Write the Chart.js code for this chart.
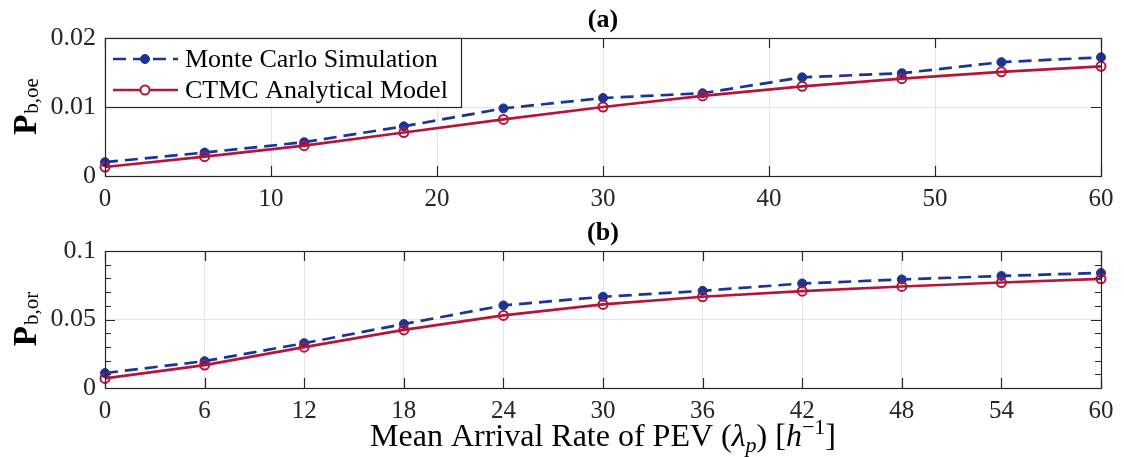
<!DOCTYPE html>
<html>
<head>
<meta charset="utf-8">
<script src="https://cdn.jsdelivr.net/npm/chart.js@4.4.1/dist/chart.umd.min.js"></script>
<style>
  body { margin: 0; background: #fff; }
  #wrap { position: relative; width: 1124px; height: 457px; }
  #chartA { position: absolute; left: 0; top: 0; }
  #chartB { position: absolute; left: 0; top: 220px; }
</style>
</head>
<body>
<div id="wrap">
  <canvas id="chartA" width="1124" height="220"></canvas>
  <canvas id="chartB" width="1124" height="237"></canvas>
</div>
<script>
// DATA
const arrivalRates = [0, 6, 12, 18, 24, 30, 36, 42, 48, 54, 60];
const monteCarloOE = [0.0020, 0.0034, 0.0049, 0.0072, 0.0098, 0.0113, 0.0120, 0.0143, 0.0149, 0.0165, 0.0172];
const ctmcOE       = [0.0013, 0.0028, 0.0044, 0.0063, 0.0082, 0.0100, 0.0116, 0.0130, 0.0141, 0.0151, 0.0159];
const monteCarloOR = [0.0109, 0.0196, 0.0327, 0.0467, 0.0603, 0.0666, 0.0709, 0.0763, 0.0792, 0.0818, 0.0840];
const ctmcOR       = [0.0070, 0.0167, 0.0298, 0.0424, 0.0530, 0.0610, 0.0666, 0.0707, 0.0741, 0.0770, 0.0797];
const seriesNames = ["Monte Carlo Simulation", "CTMC Analytical Model"];
const xTicksA = [0, 10, 20, 30, 40, 50, 60];
const xTicksB = [0, 6, 12, 18, 24, 30, 36, 42, 48, 54, 60];
const yTicksA = [0, 0.01, 0.02];
const yTicksB = [0, 0.05, 0.1];

const BLUE = "#1b3594";
const RED = "#b4163b";
const AXIS = "#262626";
const FONT = "'Liberation Serif', 'Times New Roman', serif";

function makeSeries(ys, which) {
    const mc = which === 0;
    return {
        label: seriesNames[which],
        data: arrivalRates.map((x, i) => ({ x: x, y: ys[i] })),
        borderColor: mc ? BLUE : RED,
        borderWidth: 2.7,
        borderDash: mc ? [13, 7] : [],
        pointStyle: "circle",
        pointRadius: mc ? 4.5 : 4.5,
        pointBorderWidth: mc ? 1 : 2,
        pointBorderColor: mc ? BLUE : RED,
        pointBackgroundColor: mc ? BLUE : "rgba(0,0,0,0)",
        tension: 0,
        clip: false,
        order: mc ? 1 : 0
    };
}

// inward MATLAB style ticks + axes box
const boxTicks = {
    id: "boxTicks",
    afterDatasetsDraw(chart, args, opts) {
        const ctx = chart.ctx;
        const a = chart.chartArea;
        const xs = chart.scales.x, ys = chart.scales.y;
        ctx.save();
        ctx.strokeStyle = AXIS;
        ctx.lineWidth = 1.2;
        ctx.beginPath();
        xs.ticks.forEach(t => {
            const px = Math.round(xs.getPixelForValue(t.value)) + 0.5;
            ctx.moveTo(px, a.bottom); ctx.lineTo(px, a.bottom - 10);
            ctx.moveTo(px, a.top); ctx.lineTo(px, a.top + 10);
        });
        ys.ticks.forEach(t => {
            const py = Math.round(ys.getPixelForValue(t.value)) + 0.5;
            ctx.moveTo(a.left, py); ctx.lineTo(a.left + 10, py);
            ctx.moveTo(a.right, py); ctx.lineTo(a.right - 10, py);
        });
        if (opts.minorStep) {
            for (let v = ys.min; v <= ys.max + 1e-9; v += opts.minorStep) {
                const py = Math.round(ys.getPixelForValue(v)) + 0.5;
                ctx.moveTo(a.left, py); ctx.lineTo(a.left + 6, py);
                ctx.moveTo(a.right, py); ctx.lineTo(a.right - 6, py);
            }
        }
        ctx.stroke();
        ctx.strokeRect(Math.round(a.left) + 0.5, Math.round(a.top) + 0.5,
            Math.round(a.right - a.left), Math.round(a.bottom - a.top));
        ctx.restore();
    }
};

// panel title, y label with subscript, x label, legend
const annotate = {
    id: "annotate",
    afterDraw(chart, args, opts) {
        const ctx = chart.ctx;
        const a = chart.chartArea;
        const midX = (a.left + a.right) / 2;
        const midY = (a.top + a.bottom) / 2;
        ctx.save();
        ctx.fillStyle = "#000";

        // (a) / (b)
        ctx.font = "bold 26px " + FONT;
        ctx.textAlign = "center";
        ctx.textBaseline = "alphabetic";
        ctx.fillText(opts.panel, midX, a.top - 11);

        // y label: bold P with subscript
        ctx.save();
        ctx.translate(36, midY);
        ctx.rotate(-Math.PI / 2);
        ctx.textAlign = "left";
        ctx.font = "bold 33px " + FONT;
        const pW = ctx.measureText("P").width;
        ctx.font = "21px " + FONT;
        const sW = ctx.measureText(opts.sub).width;
        const start = -(pW + sW) / 2;
        ctx.font = "bold 33px " + FONT;
        ctx.fillText("P", start, 0);
        ctx.font = "21px " + FONT;
        ctx.fillText(opts.sub, start + pW + 1, 2);
        ctx.restore();

        // x label, sized to the reference width
        if (opts.xTitle) {
            const sz = 32, sm = 22;
            const parts = [
                { t: "Mean Arrival Rate of PEV (", f: sz + "px " + FONT, dy: 0 },
                { t: "\u03bb", f: "italic " + sz + "px " + FONT, dy: 0 },
                { t: "p", f: "italic " + sm + "px " + FONT, dy: 6 },
                { t: ") [", f: sz + "px " + FONT, dy: 0 },
                { t: "h", f: "italic " + sz + "px " + FONT, dy: 0 },
                { t: "\u22121", f: sm + "px " + FONT, dy: -12 },
                { t: "]", f: sz + "px " + FONT, dy: 0 }
            ];
            let total = 0;
            parts.forEach(p => { ctx.font = p.f; p.w = ctx.measureText(p.t).width; total += p.w; });
            let x = midX - total / 2;
            const base = a.bottom + 58;
            ctx.textAlign = "left";
            parts.forEach(p => { ctx.font = p.f; ctx.fillText(p.t, x, base + p.dy); x += p.w; });
        }

        // legend
        if (opts.legend) {
            const lx = a.left, ly = a.top, lw = 356, lh = 69;
            ctx.fillStyle = "#fff";
            ctx.fillRect(lx, ly, lw, lh);
            ctx.strokeStyle = AXIS;
            ctx.lineWidth = 1.2;
            ctx.strokeRect(Math.round(lx) + 0.5, Math.round(ly) + 0.5, lw, lh);
            chart.data.datasets.forEach((ds, i) => {
                const ry = ly + 21 + i * 31;
                ctx.strokeStyle = ds.borderColor;
                ctx.lineWidth = ds.borderWidth;
                ctx.setLineDash(ds.borderDash);
                ctx.beginPath();
                ctx.moveTo(lx + 8, ry); ctx.lineTo(lx + 73, ry);
                ctx.stroke();
                ctx.setLineDash([]);
                ctx.beginPath();
                ctx.arc(lx + 40, ry, ds.pointRadius, 0, Math.PI * 2);
                ctx.lineWidth = ds.pointBorderWidth;
                ctx.strokeStyle = ds.pointBorderColor;
                ctx.fillStyle = i === 0 ? ds.pointBackgroundColor : "#fff";
                ctx.fill();
                ctx.stroke();
                ctx.fillStyle = "#000";
                ctx.font = "26px " + FONT;
                ctx.textAlign = "left";
                ctx.textBaseline = "middle";
                ctx.fillText(ds.label, lx + 80, ry + 1);
            });
        }
        ctx.restore();
    }
};

function buildChart(id, mcVals, ctmcVals, xTicks, yTicks, xAxisHeight, padTop, extra) {
    const ctx = document.getElementById(id).getContext("2d");
    return new Chart(ctx, {
        type: "line",
        data: { datasets: [makeSeries(mcVals, 0), makeSeries(ctmcVals, 1)] },
        plugins: [boxTicks, annotate],
        options: {
            responsive: false,
            animation: false,
            layout: { padding: { left: 0, right: 23, top: padTop, bottom: 0 } },
            plugins: {
                legend: { display: false },
                tooltip: { enabled: false },
                boxTicks: { minorStep: extra.minorStep },
                annotate: extra
            },
            scales: {
                x: {
                    type: "linear",
                    min: xTicks[0],
                    max: xTicks[xTicks.length - 1],
                    afterBuildTicks: s => { s.ticks = xTicks.map(v => ({ value: v })); },
                    afterFit: s => { s.height = xAxisHeight; },
                    grid: { color: "#e4e4e4", lineWidth: 1, drawTicks: false },
                    border: { display: false },
                    ticks: { padding: 8, color: AXIS, font: { family: FONT, size: 25 }, maxRotation: 0 }
                },
                y: {
                    min: yTicks[0],
                    max: yTicks[yTicks.length - 1],
                    afterBuildTicks: s => { s.ticks = yTicks.map(v => ({ value: v })); },
                    afterFit: s => { s.width = 105; },
                    grid: { color: "#e4e4e4", lineWidth: 1, drawTicks: false },
                    border: { display: false },
                    ticks: {
                        padding: 9, color: AXIS, font: { family: FONT, size: 26 },
                        callback: v => String(+v.toFixed(3))
                    }
                }
            }
        }
    });
}

buildChart("chartA", monteCarloOE, ctmcOE, xTicksA, yTicksA, 44, 38,
    { panel: "(a)", sub: "b,oe", legend: true, xTitle: false, minorStep: 0 });
buildChart("chartB", monteCarloOR, ctmcOR, xTicksB, yTicksB, 69, 31,
    { panel: "(b)", sub: "b,or", legend: false, xTitle: true, minorStep: 0.01 });
</script>
</body>
</html>
